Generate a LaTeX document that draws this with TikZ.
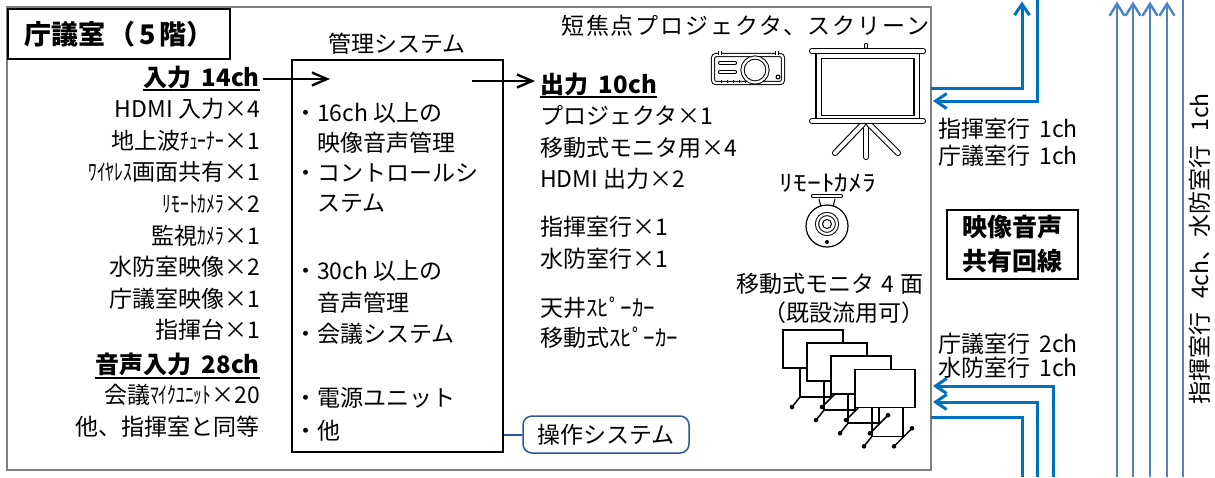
\documentclass[tikz,border=0pt]{standalone}
\usepackage{fontspec}
\usepackage{graphicx}
\setmainfont{Noto Sans CJK JP}
\usetikzlibrary{arrows.meta}

% text sizes
\newcommand\txtN{\fontsize{23}{28}\selectfont}
\newcommand\txtH{\fontsize{24}{28}\selectfont\bfseries}
\newcommand\txtT{\fontsize{27}{30}\selectfont\bfseries}
% narrow half-width katakana
\newcommand\hk[1]{\scalebox{0.76}[1]{#1}}

\definecolor{lineblue}{HTML}{0070C0}
\definecolor{paleblue}{HTML}{4F81C7}
\definecolor{opsblue}{HTML}{2F5597}
\definecolor{framegray}{HTML}{808080}

\tikzset{
  txt/.style={inner sep=0pt, font=\txtN},
  head/.style={inner sep=0pt, font=\txtH},
  uline/.style={line width=2.6pt},
  flow/.style={line width=2.4pt, -{Straight Barb[length=15pt,width=13pt]}},
  feed/.style={draw=lineblue, line width=3pt},
  feedarr/.style={feed, -{Straight Barb[length=11pt,width=15pt]}},
  trunk/.style={draw=paleblue, line width=2.4pt},
  trunkarr/.style={trunk, -{Straight Barb[length=12pt,width=15pt]}},
  icon/.style={line width=1pt, double=white, double distance=2.2pt},
  iconwide/.style={line width=1.1pt, double=white, double distance=4pt},
  mon/.style={line width=1.5pt},
}

\begin{document}
\begin{tikzpicture}[x=1pt,y=-1pt]
\useasboundingbox (0,0) rectangle (1215,477);

% room outline and title
\draw[framegray, line width=1.5pt] (7,7) rectangle (931,470);
\node[draw, line width=2.5pt, minimum width=222pt, minimum height=50pt, inner sep=0pt, font=\txtT] (title) at (119,34) {庁議室\hspace{0.12em}（\hspace{0.15em}5\hspace{0.15em}階）};

% inputs
\node[head, anchor=base east] (in14) at (260,86) {入力\hspace{0.45em}14ch};
\draw[uline] ([yshift=-4pt]in14.base west) -- ([yshift=-4pt]in14.base east);
\foreach \yy/\ss [count=\i] in {
  117.6/HDMI 入力×4,
  149.2/地上波\hk{ﾁｭｰﾅｰ}×1,
  180.8/\hk{ﾜｲﾔﾚｽ}画面共有×1,
  212.4/\hk{ﾘﾓｰﾄｶﾒﾗ}×2,
  244/監視\hk{ｶﾒﾗ}×1,
  275.6/水防室映像×2,
  307.2/庁議室映像×1,
  338.8/指揮台×1}
  \node[txt, anchor=base east] (vin\i) at (260,\yy) {\ss};
\node[head, anchor=base east] (aud28) at (260,373) {音声入力\hspace{0.45em}28ch};
\draw[uline] ([yshift=-5pt]aud28.base west) -- ([yshift=-5pt]aud28.base east);
\node[txt, anchor=base east] (ain1) at (260,403) {会議\hk{ﾏｲｸﾕﾆｯﾄ}×20};
\node[txt, anchor=base east] (ain2) at (260,435) {他、指揮室と同等};

% management system
\node[txt, anchor=base] (mgtitle) at (397,52) {管理システム};
\node[draw, line width=2.5pt, minimum width=211pt, minimum height=392pt, inner sep=0pt] (mgmt) at (397.5,256) {};
\node[txt, anchor=base west] (m1) at (294,121) {・16ch 以上の};
\node[txt, anchor=base west] (m2) at (317,151) {映像音声管理};
\node[txt, anchor=base west] (m3) at (294,181) {・コントロールシ};
\node[txt, anchor=base west] (m4) at (317,211) {ステム};
\node[txt, anchor=base west] (m5) at (294,279) {・30ch 以上の};
\node[txt, anchor=base west] (m6) at (317,311) {音声管理};
\node[txt, anchor=base west] (m7) at (294,342) {・会議システム};
\node[txt, anchor=base west] (m8) at (294,406) {・電源ユニット};
\node[txt, anchor=base west] (m9) at (294,439) {・他};

% outputs
\node[head, anchor=base west] (out10) at (540,93) {出力\hspace{0.45em}10ch};
\draw[uline] ([yshift=-4pt]out10.base west) -- ([yshift=-4pt]out10.base east);
\foreach \yy/\ss [count=\i] in {
  124/プロジェクタ×1,
  156/移動式モニタ用×4,
  187/HDMI 出力×2,
  235/指揮室行×1,
  267/水防室行×1,
  316/天井ｽﾋﾟｰｶｰ,
  346/移動式ｽﾋﾟｰｶｰ}
  \node[txt, anchor=base west] (vout\i) at (540,\yy) {\ss};

% signal arrows through the management system
\coordinate (inTip) at (330,79);
\coordinate (outStart) at (472,81);
\draw[flow, shorten <=3pt] (in14.east |- inTip) -- (inTip);
\draw[flow, shorten >=5pt] (outStart) -- (out10.west |- outStart);

% operation system
\node[txt, draw=opsblue, line width=1.5pt, rounded corners=9pt, minimum width=166pt, minimum height=37pt] (ops) at (606,434.5) {操作システム};
\draw[opsblue, line width=2pt] (mgmt.east |- ops.west) -- (ops.west);

% projector and screen
\node[txt, anchor=base west] (projlbl) at (561,34) {\addfontfeature{LetterSpace=8}短焦点プロジェクタ、スクリーン};
\draw[icon, rounded corners=3pt] (713,55) rectangle (783,83);
\draw[icon] (720,51) -- (720,55);
\draw[icon] (777,51) -- (777,55);
\draw[icon, line cap=round] (720,63) -- (735,63);
\draw[icon, line cap=round] (720,72) -- (735,72);
\draw[icon, fill=white] (755,70) circle (12.5);
\draw[line width=1pt] (778,77) circle (2);
\foreach \xx in {721,727,733,739,745}
  \draw[line width=1pt] (\xx,83) -- (\xx,80);

\draw[iconwide, line cap=round] (866,124) -- (866,157);
\draw[iconwide, line cap=round] (863,124) -- (835,153);
\draw[iconwide, line cap=round] (869,124) -- (898,153);
\draw[iconwide, fill=white] (818.5,56) rectangle (916.5,118);
\draw[iconwide, line cap=round] (812,51) -- (923,51);
\draw[iconwide, line cap=round] (812,121) -- (923,121);
\draw[icon, line cap=round] (866,45) -- (866,47);

% remote camera
\node[txt, anchor=base] (camlbl) at (828,191) {\scalebox{1.2}[1]{ﾘﾓｰﾄｶﾒﾗ}};
\draw[icon, line cap=round] (813,196) -- (841,196);
\draw[line width=1pt] (819,199) -- (821,207);
\draw[line width=1pt] (835,199) -- (833,207);
\draw[line width=1.2pt, fill=white] (827,226) circle (21);
\draw[icon] (827,224) circle (10);
\draw[line width=1pt] (827,224) circle (4.5);
\fill (827,242) circle (2);

% mobile monitors
\node[txt, anchor=base east] (monlbl) at (924,292) {移動式モニタ\hspace{0.3em}4\hspace{0.3em}面};
\node[txt, anchor=base east] (monlbl2) at (925,321) {（既設流用可）};
\foreach \k in {0,1,2,3} {
  \pgfmathsetmacro\mx{783+24*\k}
  \pgfmathsetmacro\my{330+13.1*\k}
  \begin{scope}[shift={(\mx,\my)}]
    \draw[mon] (17,38) -- (17,67) -- (48,67) -- (48,38);
    \draw[mon] (17,67) -- (9,77);
    \fill (9,77) circle (2.3);
    \draw[mon] (39,77) -- (57,59);
    \fill (39,77) circle (2.3);
    \fill (57,59) circle (2.3);
    \draw[mon, fill=white] (0,0) rectangle (60,38);
  \end{scope}
}

% shared lines to the other rooms
\coordinate (a0) at (931,88);   \coordinate (a1) at (1022,1.5);
\coordinate (b0) at (1037,0);   \coordinate (b1) at (933,101);
\coordinate (c0) at (1053,477); \coordinate (c1) at (933,386);
\coordinate (d0) at (1037,477); \coordinate (d1) at (933,402);
\coordinate (e0) at (931,417);  \coordinate (e1) at (1022,477);
\draw[feedarr] (a0) -| (a1);
\draw[feedarr] (b0) |- (b1);
\draw[feedarr] (c0) |- (c1);
\draw[feedarr] (d0) |- (d1);
\draw[feed] (e0) -| (e1);

\node[txt, anchor=base west] (r1) at (938,137) {指揮室行\hspace{0.4em}1ch};
\node[txt, anchor=base west] (r2) at (938,164) {庁議室行\hspace{0.4em}1ch};
\node[txt, anchor=base west] (r3) at (938,352) {庁議室行\hspace{0.4em}2ch};
\node[txt, anchor=base west] (r4) at (938,376) {水防室行\hspace{0.4em}1ch};

\node[draw, line width=2pt, minimum width=131pt, minimum height=69pt, inner sep=0pt, align=center, font=\fontsize{25}{34}\selectfont\bfseries] (share) at (1012.5,244.5) {映像音声\\共有回線};

% trunk to the command room
\foreach \xx [count=\i] in {1117,1133,1150,1167} {
  \coordinate (t\i a) at (\xx,477);
  \coordinate (t\i b) at (\xx,1.5);
  \draw[trunkarr] (t\i a) -- (t\i b);
}
\coordinate (t5a) at (1183,477);
\coordinate (t5b) at (1183,0);
\draw[trunk] (t5a) -- (t5b);
\node[txt, rotate=90] (trunklbl) at (1200,249) {指揮室行\hspace{0.6em}4ch、水防室行\hspace{0.6em}1ch};
\end{tikzpicture}
\end{document}
